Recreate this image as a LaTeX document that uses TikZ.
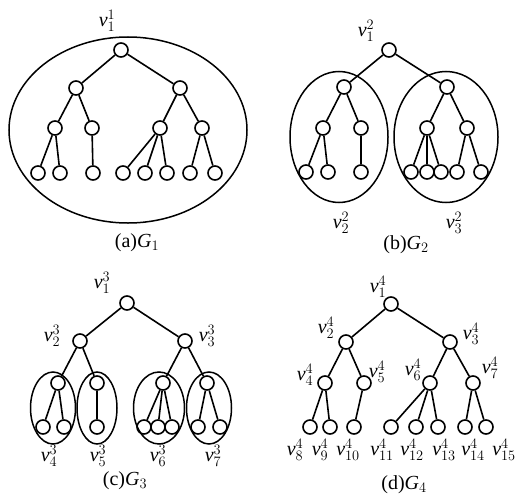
\documentclass[tikz,border=0pt]{standalone}
\usepackage{fontspec}
\setmainfont{Liberation Serif}
\usetikzlibrary{shapes.geometric}
\tikzset{
  vtx/.style={circle,draw,line width=1.6pt,minimum size=14pt,inner sep=0pt},
  link/.style={line width=1.6pt},
  group/.style={ellipse,draw,line width=1.5pt,inner sep=0pt},
  lbl/.style={font=\fontsize{20}{22}\selectfont,inner sep=0pt},
  capt/.style={font=\fontsize{20}{22}\selectfont,inner sep=0pt}
}
\newcommand{\vx}[2]{$\mathit{v}^{#2}_{#1}$}
\begin{document}
\begin{tikzpicture}[x=1pt,y=-1pt]
\useasboundingbox (0,0) rectangle (516,503);
% (a)
\node[group,minimum width=238pt,minimum height=186pt] (ga) at (128,130) {};
\foreach \n/\x/\y in {1/121/50,2/76/88,3/180/88,4/55/128,5/92/128,6/160/128,7/202/128,
  8/38/173,9/60/173,10/93/173,11/123/173,12/145/173,13/167/173,14/190/173,15/215/173}
  \node[vtx] (a\n) at (\x,\y) {};
\node[lbl] (la1) at (107,21) {\vx{1}{1}};
\node[capt] (capa) at (137,243) {(a)$\mathit{G}_1$};
% (b)
\node[group,minimum width=98pt,minimum height=131pt] (gb1) at (339,137) {};
\node[group,minimum width=104pt,minimum height=131pt] (gb2) at (446,137) {};
\foreach \n/\x/\y in {1/389/50,2/344/87,3/447/87,4/323/128,5/361/128,6/427/128,7/467/128,
  8/306/172,9/328/172,10/361/172,11/411/172,12/427/172,13/441/172,14/457/172,15/481/172}
  \node[vtx] (b\n) at (\x,\y) {};
\node[lbl] (lb1) at (366,31) {\vx{1}{2}};
\node[lbl] (lb2) at (341,223) {\vx{2}{2}};
\node[lbl] (lb3) at (454,223) {\vx{3}{2}};
\node[capt] (capb) at (406,245) {(b)$\mathit{G}_2$};
% (c)
\node[group,minimum width=45pt,minimum height=72pt] (gc4) at (53,408) {};
\node[group,minimum width=40pt,minimum height=72pt] (gc5) at (97,408) {};
\node[group,minimum width=51pt,minimum height=72pt] (gc6) at (159,408) {};
\node[group,minimum width=45pt,minimum height=72pt] (gc7) at (209,408) {};
\foreach \n/\x/\y in {1/127/303,2/80/341,3/185/341,4/58/383,5/97/383,6/163/383,7/207/383,
  8/43/427,9/64/427,10/97/427,11/144/427,12/158/427,13/172/427,14/198/427,15/220/427}
  \node[vtx] (c\n) at (\x,\y) {};
\node[lbl] (lc1) at (102,283) {\vx{1}{3}};
\node[lbl] (lc2) at (52,336) {\vx{2}{3}};
\node[lbl] (lc3) at (207,336) {\vx{3}{3}};
\foreach \k/\x in {4/49,5/98,6/158,7/213}
  \node[lbl] (lc\k) at (\x,456) {\vx{\k}{3}};
\node[capt] (capc) at (125,481) {(c)$\mathit{G}_3$};
% (d)
\foreach \n/\x/\y in {1/391/304,2/346/342,3/450/342,4/325/383,5/364/383,6/430/383,7/473/383,
  8/310/427,9/330/427,10/354/427,11/391/427,12/416/427,13/438/427,14/465/427,15/486/427}
  \node[vtx] (d\n) at (\x,\y) {};
\node[lbl] (ld1) at (378,287) {\vx{1}{4}};
\node[lbl] (ld2) at (326,328) {\vx{2}{4}};
\node[lbl] (ld3) at (471,334) {\vx{3}{4}};
\node[lbl] (ld4) at (305,375) {\vx{4}{4}};
\node[lbl] (ld5) at (377,372) {\vx{5}{4}};
\node[lbl] (ld6) at (413,370) {\vx{6}{4}};
\node[lbl] (ld7) at (490,368) {\vx{7}{4}};
\foreach \k/\x in {8/295,9/320,10/348,11/382,12/412,13/444,14/473,15/504}
  \node[lbl] (ld\k) at (\x,450) {\vx{\k}{4}};
\node[capt] (capd) at (404,485) {(d)$\mathit{G}_4$};
% edges
\foreach \g in {a,b,c,d}
  \foreach \u/\w in {1/2,1/3,2/4,2/5,3/6,3/7,4/8,4/9,5/10,6/11,6/12,6/13,7/14,7/15}
    \draw[link] (\g\u) -- (\g\w);
\end{tikzpicture}
\end{document}
